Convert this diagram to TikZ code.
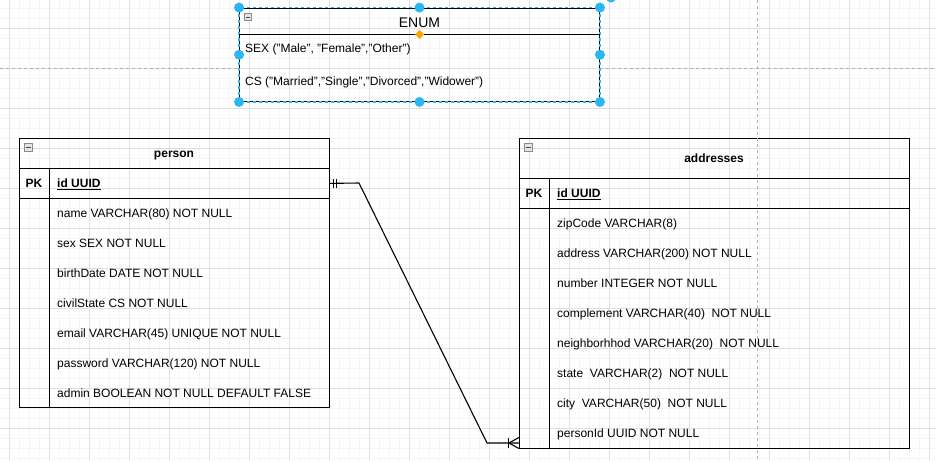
\documentclass[tikz,border=0pt]{standalone}
\usepackage{fontspec}
\setmainfont{Liberation Sans}
\definecolor{gminor}{HTML}{F5F5F5}
\definecolor{gmajor}{HTML}{E0E0E0}
\definecolor{guide}{HTML}{B0B0B0}
\definecolor{hblue}{HTML}{29B6F2}
\definecolor{horange}{HTML}{FFA500}
\definecolor{collfill}{HTML}{E4E4E4}
\definecolor{collline}{HTML}{8A8A8A}
\tikzset{
  tbl/.style={draw=black, line width=1.2pt, inner sep=0pt, fill=none},
  tline/.style={line width=1.2pt, black},
  rowtxt/.style={anchor=base west, inner sep=0pt, font=\fontsize{12}{14}\selectfont},
  pktxt/.style={anchor=base, inner sep=0pt, font=\fontsize{12}{14}\selectfont\bfseries},
  idtxt/.style={anchor=base west, inner sep=0pt, font=\fontsize{12}{14}\selectfont\bfseries},
  ttltxt/.style={anchor=base, inner sep=0pt, font=\fontsize{12}{14}\selectfont\bfseries},
  handle/.style={circle, fill=hblue, draw=none, inner sep=0pt, minimum size=10pt},
  collbox/.style={draw=collline, fill=collfill, line width=0.8pt},
  gridminor/.style={gminor, line width=1pt},
  gridmajor/.style={gmajor, line width=1pt},
  guideline/.style={guide, line width=1pt, dash pattern=on 3pt off 3pt},
  conn/.style={line width=1.1pt, black},
}
\begin{document}
\begin{tikzpicture}[x=1pt, y=-1pt]
\useasboundingbox (0,0) rectangle (936,461);
\fill[white] (0,0) rectangle (936,461);
% grid
\foreach \x in {9,19,...,929} \draw[gridminor] (\x,0) -- (\x,461);
\foreach \y in {8,18,...,458} \draw[gridminor] (0,\y) -- (936,\y);
\foreach \x in {9,49,...,929} \draw[gridmajor] (\x,0) -- (\x,461);
\foreach \y in {28,68,...,428} \draw[gridmajor] (0,\y) -- (936,\y);

% ---------- person table ----------
\node[tbl, minimum width=310pt, minimum height=269pt] (person) at (174.5,273) {};
\draw[tline] (person.west |- 0,168.5) -- (person.east |- 0,168.5);
\draw[tline] (person.west |- 0,198.5) -- (person.east |- 0,198.5);
\draw[tline] (49.5,168.5) -- (49.5,407.5);
\draw[collbox] (24,143) rectangle (32,151);
\draw[black!70, line width=1pt] (25.5,147) -- (30.5,147);
\node[ttltxt] (ptitle) at (174,157.5) {person};
\node[pktxt] (ppk) at (34,187.5) {PK};
\node[idtxt] (pid) at (57,187.5) {\underline{id UUID}};
\node[rowtxt] (p1) at (57,217.3) {name VARCHAR(80) NOT NULL};
\node[rowtxt] (p2) at (57,247.3) {sex SEX NOT NULL};
\node[rowtxt] (p3) at (57,277.3) {birthDate DATE NOT NULL};
\node[rowtxt] (p4) at (57,307.3) {civilState CS NOT NULL};
\node[rowtxt] (p5) at (57,337.3) {email VARCHAR(45) UNIQUE NOT NULL};
\node[rowtxt] (p6) at (57,367.3) {password VARCHAR(120) NOT NULL};
\node[rowtxt] (p7) at (57,397.3) {admin BOOLEAN NOT NULL DEFAULT FALSE};

% ---------- addresses table ----------
\node[tbl, minimum width=390pt, minimum height=310pt] (addr) at (714.5,293.5) {};
\draw[tline] (addr.west |- 0,178.5) -- (addr.east |- 0,178.5);
\draw[tline] (addr.west |- 0,208.5) -- (addr.east |- 0,208.5);
\draw[tline] (549.5,178.5) -- (549.5,448.5);
\draw[collbox] (524,143) rectangle (532,151);
\draw[black!70, line width=1pt] (525.5,147) -- (530.5,147);
\node[ttltxt] (atitle) at (714,162.5) {addresses};
\node[pktxt] (apk) at (534,197.5) {PK};
\node[idtxt] (aid) at (557,197.5) {\underline{id UUID}};
\node[rowtxt] (a1) at (557,227.3) {zipCode VARCHAR(8)};
\node[rowtxt] (a2) at (557,257.3) {address VARCHAR(200) NOT NULL};
\node[rowtxt] (a3) at (557,287.3) {number INTEGER NOT NULL};
\node[rowtxt] (a4) at (557,317.3) {complement VARCHAR(40)\ \ NOT NULL};
\node[rowtxt] (a5) at (557,347.3) {neighborhhod VARCHAR(20)\ \ NOT NULL};
\node[rowtxt] (a6) at (557,377.3) {state\ \ VARCHAR(2)\ \ NOT NULL};
\node[rowtxt] (a7) at (557,407.3) {city\ \ VARCHAR(50)\ \ NOT NULL};
\node[rowtxt] (a8) at (557,437.3) {personId UUID NOT NULL};

% ---------- guides ----------
\draw[guideline] (0,68) -- (239,68);
\draw[guideline] (600,68) -- (936,68);
\draw[guideline] (757,0) -- (757,461);

% ---------- connector ----------
\coordinate (bend1) at (359,183);
\coordinate (bend2) at (487,443);
\draw[conn] (person.east |- ppk) -- (bend1) -- (bend2) -- (addr.west |- bend2);
% one-and-only-one marks
\draw[conn] ([xshift=3pt]person.east |- ppk) ++(0,-4.5) -- ++(0,9);
\draw[conn] ([xshift=6pt]person.east |- ppk) ++(0,-4.5) -- ++(0,9);
% one-to-many marks
\draw[conn] ([xshift=-10pt]addr.west |- bend2) ++(0,-5) -- ++(0,10);
\draw[conn] ([xshift=-10pt]addr.west |- bend2) -- (addr.west |- 0,437.5);
\draw[conn] ([xshift=-10pt]addr.west |- bend2) -- (addr.west |- 0,448.5);

% ---------- ENUM table (selected) ----------
\node[draw=black, line width=0.9pt, inner sep=0pt, minimum width=360pt, minimum height=93.5pt] (enum) at (419.5,54.75) {};
\draw[hblue, line width=1.2pt, dash pattern=on 3pt off 3pt] (enum.north west) rectangle (enum.south east);
\draw[black, line width=1.2pt] (enum.west |- 0,34.5) -- (enum.east |- 0,34.5);
\draw[collbox] (244,13.5) rectangle (251,20.5);
\draw[black!70, line width=1pt] (245.5,17) -- (249.5,17);
\node[anchor=base, inner sep=0pt, font=\fontsize{14}{16}\selectfont] (etitle) at (419.5,27) {ENUM};
\node[rowtxt] (e1) at (245,52.3) {SEX ("Male", "Female","Other")};
\node[rowtxt] (e2) at (245,85.3) {CS ("Married","Single","Divorced","Widower")};
% selection handles
\foreach \p in {north west, north, north east, west, east, south west, south, south east}
  \node[handle] at (enum.\p) {};
\node[handle] at (611,-2.5) {};
\fill[horange] (419.5,30) -- (424,34.5) -- (419.5,39) -- (415,34.5) -- cycle;
\end{tikzpicture}
\end{document}
